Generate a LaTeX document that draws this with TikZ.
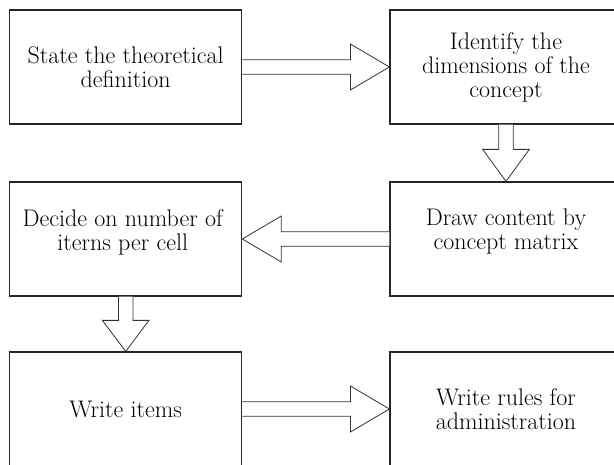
\documentclass[tikz,border=0pt]{standalone}
\usetikzlibrary{calc}
\begin{document}
\begin{tikzpicture}[x=1pt,y=-1pt,
  stepbox/.style={draw=black!85,line width=1.2pt,minimum width=232pt,minimum height=114pt,
    inner sep=0pt,align=center,font=\fontsize{24}{24}\selectfont,text=black},
  steptext/.style={inner sep=0pt,align=center,font=\fontsize{24}{24}\selectfont,text=black},
  fatarrow/.style={draw=black!80,line width=0.8pt,fill=white,line join=miter}]
\useasboundingbox (0,0) rectangle (614,465);
\begin{scope}
\clip (0,0) rectangle (614,465);
\node[stepbox] (b1) at (125.7,67) {State the theoretical\\definition};
\node[stepbox] (b2) at (506,67) {Identify the\\dimensions of the\\concept};
\node[stepbox] (b3) at (125.7,239) {};
\node[steptext] (t3) at ($(b3.center)+(-3,-7)$) {Decide on number of\\iterns per cell};
\node[stepbox] (b4) at (506,239) {};
\node[steptext] (t4) at ($(b4.center)+(0,-7)$) {Draw content by\\concept matrix};
\node[stepbox] (b5) at (125.7,409) {Write items};
\node[stepbox] (b6) at (506,409) {Write rules for\\administration};
% right arrow b1 -> b2
\draw[fatarrow] ($(b1.east)+(0,-7.3)$) -- ($(b2.west)+(-39,-7.3)$) -- ($(b2.west)+(-39,-23)$)
  -- (b2.west) -- ($(b2.west)+(-39,23)$) -- ($(b2.west)+(-39,7.3)$) -- ($(b1.east)+(0,7.3)$);
% down arrow b2 -> b4
\draw[fatarrow] ($(b2.south)+(-7.3,0)$) -- ($(b4.north)+(-7.3,-32)$) -- ($(b4.north)+(-23.3,-32)$)
  -- (b4.north) -- ($(b4.north)+(23.3,-32)$) -- ($(b4.north)+(7.3,-32)$) -- ($(b2.south)+(7.3,0)$);
% left arrow b4 -> b3
\draw[fatarrow] ($(b4.west)+(0,-7.3)$) -- ($(b3.east)+(39,-7.3)$) -- ($(b3.east)+(39,-23)$)
  -- (b3.east) -- ($(b3.east)+(39,23)$) -- ($(b3.east)+(39,7.3)$) -- ($(b4.west)+(0,7.3)$);
% down arrow b3 -> b5
\draw[fatarrow] ($(b3.south)+(-7.3,0)$) -- ($(b5.north)+(-7.3,-31)$) -- ($(b5.north)+(-23.3,-31)$)
  -- (b5.north) -- ($(b5.north)+(23.3,-31)$) -- ($(b5.north)+(7.3,-31)$) -- ($(b3.south)+(7.3,0)$);
% right arrow b5 -> b6
\draw[fatarrow] ($(b5.east)+(0,-7.3)$) -- ($(b6.west)+(-39,-7.3)$) -- ($(b6.west)+(-39,-23)$)
  -- (b6.west) -- ($(b6.west)+(-39,23)$) -- ($(b6.west)+(-39,7.3)$) -- ($(b5.east)+(0,7.3)$);
\end{scope}
\end{tikzpicture}
\end{document}
